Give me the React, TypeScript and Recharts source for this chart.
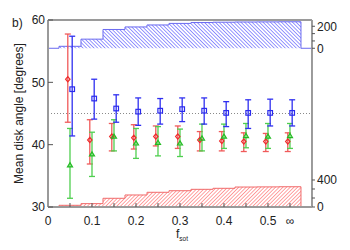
import React from 'react';
import { ComposedChart, XAxis, YAxis, Scatter, ErrorBar, Area, ReferenceLine } from 'recharts';

// f_sot bin centres (the last bin, drawn at 0.55, is f_sot = infinity)
const fsotCategories = [0.05, 0.1, 0.15, 0.2, 0.25, 0.3, 0.35, 0.4, 0.45, 0.5, 0.55];
const xMajorTicks = [0, 0.1, 0.2, 0.3, 0.4, 0.5, 0.55];
const xMajorLabels = ['0', '0.1', '0.2', '0.3', '0.4', '0.5', '\u221e'];
const xMinorTicks = [0.05, 0.15, 0.25, 0.35, 0.45];
const degTicks = [30, 40, 50, 60];
const degRightTicks = [40, 50];

// red diamonds
const redMean = [50.5, 40.75, 41.3, 41.1, 41.3, 41.3, 40.75, 40.6, 40.5, 40.5, 40.5];
const redHigh = [57.75, 44.0, 43.4, 43.2, 43.0, 43.0, 42.1, 42.1, 41.9, 41.8, 41.9];
const redLow = [43.6, 36.9, 39.0, 39.3, 39.8, 39.4, 39.0, 39.0, 38.9, 38.9, 38.9];

// blue squares
const blueMean = [48.9, 47.4, 45.8, 45.3, 45.45, 45.7, 45.45, 45.1, 45.1, 45.1, 45.1];
const blueHigh = [57.4, 50.5, 48.0, 47.5, 47.4, 47.5, 47.5, 46.9, 47.2, 47.3, 47.2];
const blueLow = [41.4, 44.1, 43.6, 43.1, 43.3, 43.7, 43.3, 42.9, 42.6, 43.0, 43.0];

// green triangles
const greenMean = [36.7, 38.45, 41.3, 40.2, 40.3, 40.2, 41.0, 41.3, 41.4, 41.3, 41.4];
const greenHigh = [42.6, 42.0, 44.0, 42.6, 42.9, 42.5, 43.3, 43.3, 43.4, 43.4, 43.4];
const greenLow = [31.4, 34.9, 39.0, 37.8, 38.2, 38.1, 39.0, 39.4, 39.5, 39.4, 39.4];

// histograms (counts per bin)
const blueCounts = [18, 83, 171, 194, 212, 226, 234, 237, 239, 240, 241];
const redCounts = [25, 50, 129, 178, 218, 241, 262, 277, 296, 298, 300];
const histStart = 0;
const histEnd = 0.6;
const blueHistTicks = [0, 66.7, 133.3, 200];
const blueHistLabels = [0, 200];
const redHistTicks = [0, 133.3, 266.7, 400];
const redHistLabels = [0, 400];

const histData = [
  { x: histStart, blue: 0, red: 0 },
  ...fsotCategories.map((x, i) => ({ x, blue: blueCounts[i], red: redCounts[i] })),
  { x: histEnd, blue: 0, red: 0 },
];

const makeSeries = (mean: number[], hi: number[], lo: number[]) =>
  fsotCategories.map((x, i) => ({ x, y: mean[i], err: [mean[i] - lo[i], hi[i] - mean[i]] }));

const redData = makeSeries(redMean, redHigh, redLow);
const blueData = makeSeries(blueMean, blueHigh, blueLow);
const greenData = makeSeries(greenMean, greenHigh, greenLow);

const xTicks = [...xMajorTicks, ...xMinorTicks].sort((a, b) => a - b);
const fmtX = (v: number) => {
  const i = xMajorTicks.findIndex((t) => Math.abs(t - v) < 1e-9);
  return i >= 0 ? xMajorLabels[i] : '';
};
const fmtLabels = (labels: number[]) => (v: number) =>
  labels.some((l) => Math.abs(l - v) < 1e-6) ? String(v) : '';

const AXIS = '#9a9a9a';
const TEXT = '#222';
const FONT = '"Liberation Sans", Arial, Helvetica, sans-serif';
const THIN = 0.01;

const Diamond = (p: any) => (
  <path
    d={`M${p.cx},${p.cy - 2.6}L${p.cx + 2.2},${p.cy}L${p.cx},${p.cy + 2.6}L${p.cx - 2.2},${p.cy}Z`}
    fill="none"
    stroke="#ee2a2a"
    strokeWidth={1.2}
  />
);
const Square = (p: any) => (
  <rect x={p.cx - 2.3} y={p.cy - 2.3} width={4.6} height={4.6} fill="none" stroke="#2a2aee" strokeWidth={1.2} />
);
const Triangle = (p: any) => (
  <path
    d={`M${p.cx - 2.5},${p.cy + 1.6}L${p.cx + 2.5},${p.cy + 1.6}L${p.cx},${p.cy - 2.5}Z`}
    fill="none"
    stroke="#22bb22"
    strokeWidth={1.2}
  />
);

const XTitle = (props: any) => {
  const vb = props.viewBox || { x: 40, y: 199, width: 264, height: 30 };
  const cx = vb.x + vb.width / 2 + 2;
  const by = vb.y + 30.5;
  return (
    <text x={cx} y={by} textAnchor="middle" fill={TEXT} fontSize={12} fontFamily={FONT}>
      <tspan>f</tspan>
      <tspan fontSize={6.5} dy={3}>sot</tspan>
    </text>
  );
};

const YTitle = (props: any) => {
  const vb = props.viewBox || { x: 0, y: 12, width: 40, height: 187 };
  const x = 15.5;
  const y = vb.y + vb.height / 2;
  return (
    <text x={x} y={y} transform={`rotate(-90 ${x} ${y})`} textAnchor="middle" fill={TEXT} fontSize={12} fontFamily={FONT}>
      Mean disk angle [degrees]
    </text>
  );
};

export default function App() {
  return (
    <div style={{ position: 'relative', width: 342, height: 242, fontFamily: FONT }}>
      <div style={{ position: 'absolute', left: 4, top: 8.6, fontSize: 12, lineHeight: '12px', color: TEXT }}>b)</div>
      <ComposedChart width={342} height={242} data={histData} margin={{ top: 12, right: 38, bottom: 13, left: 0 }}>
        <defs>
          <pattern id="hatchBlue" patternUnits="userSpaceOnUse" width="2.6" height="2.6" patternTransform="rotate(-45)">
            <line x1="1.3" y1="0" x2="1.3" y2="2.6" stroke="#7b7bff" strokeWidth="0.8" />
          </pattern>
          <pattern id="hatchRed" patternUnits="userSpaceOnUse" width="2.6" height="2.6" patternTransform="rotate(45)">
            <line x1="1.3" y1="0" x2="1.3" y2="2.6" stroke="#ff8a8a" strokeWidth="0.8" />
          </pattern>
        </defs>
        <XAxis
          xAxisId="x"
          type="number"
          dataKey="x"
          domain={[0, 0.6]}
          allowDataOverflow
          ticks={xTicks}
          interval={0}
          tickFormatter={fmtX}
          tickSize={-4}
          tickMargin={13}
          height={30}
          axisLine={{ stroke: AXIS, strokeWidth: 2 }}
          tickLine={{ stroke: '#555' }}
          tick={{ fill: TEXT, fontSize: 12, fontFamily: FONT }}
          label={XTitle}
        />
        <XAxis
          xAxisId="top"
          orientation="top"
          type="number"
          dataKey="x"
          domain={[0, 0.6]}
          allowDataOverflow
          ticks={xTicks}
          interval={0}
          tick={false}
          tickSize={-4}
          height={THIN}
          axisLine={{ stroke: AXIS, strokeWidth: 2 }}
          tickLine={{ stroke: '#555' }}
        />
        <XAxis xAxisId="xr" hide type="number" dataKey="x" domain={[0.005, 0.605]} allowDataOverflow />
        <XAxis xAxisId="xb" hide type="number" dataKey="x" domain={[-0.005, 0.595]} allowDataOverflow />
        <YAxis
          yAxisId="deg"
          type="number"
          dataKey="y"
          domain={[30, 60]}
          allowDataOverflow
          ticks={degTicks}
          interval={0}
          width={40}
          tickSize={-5}
          tickMargin={8}
          axisLine={{ stroke: AXIS, strokeWidth: 2 }}
          tickLine={{ stroke: '#555' }}
          tick={{ fill: TEXT, fontSize: 12, fontFamily: FONT }}
          label={YTitle}
        />
        <YAxis
          yAxisId="degR"
          orientation="right"
          type="number"
          domain={[30, 60]}
          allowDataOverflow
          ticks={degRightTicks}
          interval={0}
          tick={false}
          tickSize={-5}
          width={THIN}
          axisLine={{ stroke: AXIS, strokeWidth: 2 }}
          tickLine={{ stroke: '#555' }}
        />
        <YAxis
          yAxisId="hb"
          orientation="right"
          type="number"
          domain={[-1443, 257]}
          allowDataOverflow
          ticks={blueHistTicks}
          interval={0}
          tickFormatter={fmtLabels(blueHistLabels)}
          tickSize={3}
          tickMargin={2}
          width={THIN}
          axisLine={false}
          tickLine={{ stroke: '#555' }}
          tick={{ fill: TEXT, fontSize: 12, fontFamily: FONT }}
        />
        <YAxis
          yAxisId="hr"
          orientation="right"
          type="number"
          domain={[0, 2770]}
          allowDataOverflow
          ticks={redHistTicks}
          interval={0}
          tickFormatter={fmtLabels(redHistLabels)}
          tickSize={3}
          tickMargin={2}
          width={THIN}
          axisLine={false}
          tickLine={{ stroke: '#555' }}
          tick={{ fill: TEXT, fontSize: 12, fontFamily: FONT }}
        />
        <Area
          xAxisId="x"
          yAxisId="hb"
          type="step"
          dataKey="blue"
          stroke="#6a6af0"
          strokeWidth={1}
          fill="url(#hatchBlue)"
          fillOpacity={1}
          baseValue={0}
          dot={false}
          activeDot={false}
          isAnimationActive={false}
        />
        <Area
          xAxisId="x"
          yAxisId="hr"
          type="step"
          dataKey="red"
          stroke="#f06a6a"
          strokeWidth={1}
          fill="url(#hatchRed)"
          fillOpacity={1}
          baseValue={0}
          dot={false}
          activeDot={false}
          isAnimationActive={false}
        />
        <ReferenceLine xAxisId="x" yAxisId="deg" y={45} stroke="#8a8a8a" strokeDasharray="1 2" strokeWidth={1} />
        <Scatter xAxisId="xr" yAxisId="deg" data={redData} dataKey="y" shape={Diamond} isAnimationActive={false}>
          <ErrorBar dataKey="err" direction="y" width={3} stroke="#f05a5a" strokeWidth={1.3} isAnimationActive={false} />
        </Scatter>
        <Scatter xAxisId="x" yAxisId="deg" data={greenData} dataKey="y" shape={Triangle} isAnimationActive={false}>
          <ErrorBar dataKey="err" direction="y" width={3} stroke="#4fcf4f" strokeWidth={1.3} isAnimationActive={false} />
        </Scatter>
        <Scatter xAxisId="xb" yAxisId="deg" data={blueData} dataKey="y" shape={Square} isAnimationActive={false}>
          <ErrorBar dataKey="err" direction="y" width={3} stroke="#2f2ff0" strokeWidth={1.3} isAnimationActive={false} />
        </Scatter>
      </ComposedChart>
    </div>
  );
}
